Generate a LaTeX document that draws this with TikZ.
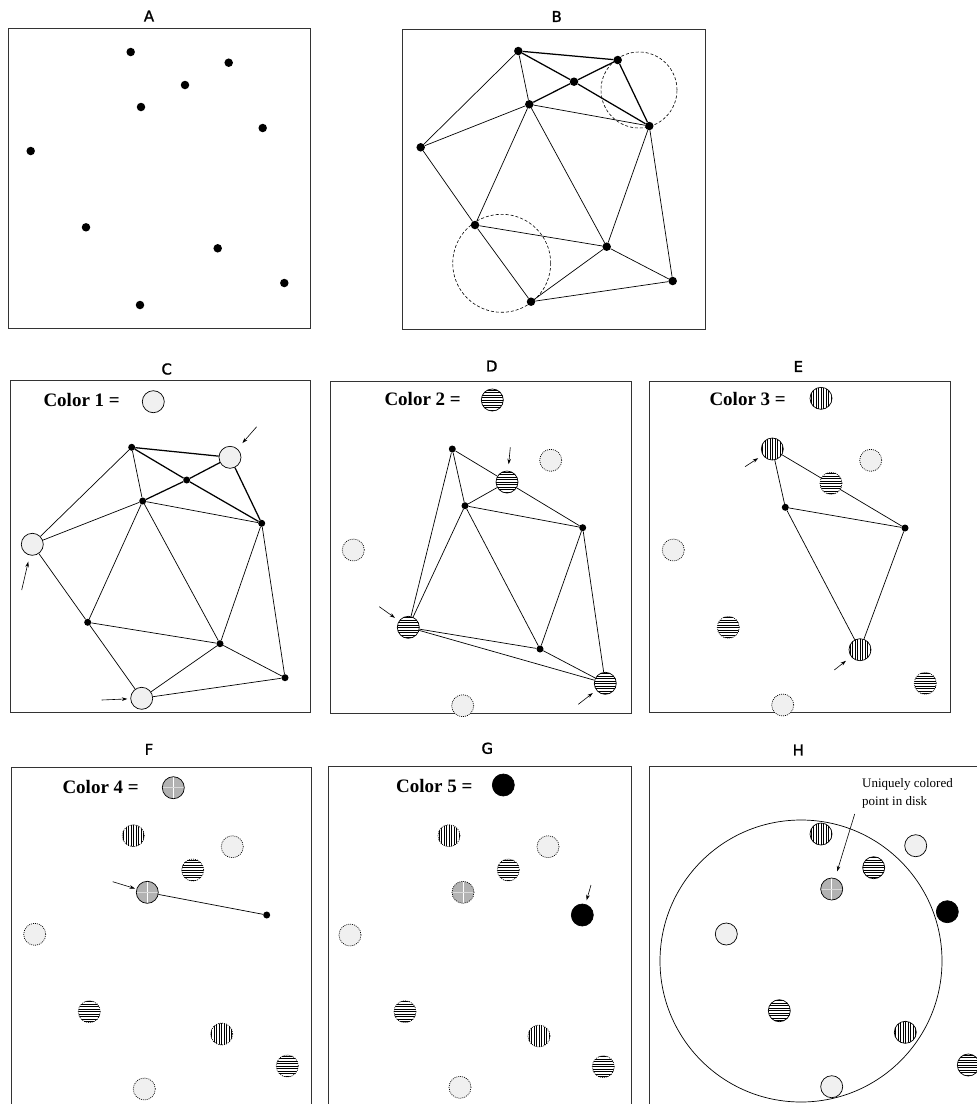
\documentclass[tikz,border=0pt]{standalone}
\usepackage{fontspec}
\setmainfont{Liberation Serif}
\newfontfamily\titlefont[FakeBold=1.2]{DejaVu Sans}
\usetikzlibrary{arrows.meta}
\pgfdeclarelayer{bg}
\pgfsetlayers{bg,main}
\definecolor{paleg}{gray}{0.94}
\definecolor{stip}{gray}{0.70}

\tikzset{
  frame/.style={draw=black!80, line width=0.9pt},
  ttl/.style={font=\titlefont\fontsize{15}{18}\selectfont, inner sep=0pt},
  key/.style={font=\fontsize{19}{22}\selectfont\bfseries, anchor=base west, inner sep=0pt},
  note/.style={font=\fontsize{13}{17.7}\selectfont, align=left, anchor=north west, inner sep=0pt},
  bigdot/.style={circle, fill=black, inner sep=0pt, minimum size=8.5pt},
  dot/.style={circle, fill=black, inner sep=0pt, minimum size=7pt},
  disc/.style={circle, inner sep=0pt, minimum size=22pt, draw=black, line width=0.7pt},
  ghost/.style={dash pattern=on 0.9pt off 1.1pt},
  hlines/.style={path picture={\foreach \k in {-4,...,4}
      \draw[solid, line width=0.55pt] ([shift={(-12pt,\k*2.5pt)}]path picture bounding box.center) -- ++(24pt,0pt);}},
  vlines/.style={path picture={\foreach \k in {-4,...,4}
      \draw[solid, line width=0.55pt] ([shift={(\k*2.5pt,-12pt)}]path picture bounding box.center) -- ++(0pt,24pt);}},
  c1/.style={disc, fill=paleg},
  c2/.style={disc, fill=white, hlines},
  c3/.style={disc, fill=white, vlines},
  c4/.style={disc, fill=stip, path picture={
      \draw[solid, white, line width=0.7pt] ([yshift=-12pt]path picture bounding box.center) -- ++(0pt,24pt);
      \draw[solid, white!50!stip, line width=0.5pt] ([xshift=-12pt]path picture bounding box.center) -- ++(24pt,0pt);}},
  c5/.style={disc, fill=black},
  g1/.style={c1, ghost},
  g2/.style={c2, ghost},
  g3/.style={c3, ghost},
  g4/.style={c4, ghost},
  edge/.style={line width=0.7pt, line join=round},
  hv/.style={line width=1.25pt, line join=round},
  arr/.style={line width=0.6pt, -{Stealth[length=5.5pt, width=3.6pt]}},
  ring/.style={dash pattern=on 3pt off 2pt, line width=0.6pt},
}

\begin{document}
\begin{tikzpicture}[x=1pt, y=-1pt]
\useasboundingbox (0,0) rectangle (977,1104);
\clip (0,0) rectangle (977,1104);

% ---------------- titles ----------------
\node[ttl] (tA) at (149,16) {A};
\node[ttl] (tB) at (556.7,16.5) {B};
\node[ttl] (tC) at (166.7,369) {C};
\node[ttl] (tD) at (491.7,366) {D};
\node[ttl] (tE) at (798.3,366.5) {E};
\node[ttl] (tF) at (149,749.3) {F};
\node[ttl] (tG) at (487.3,748.3) {G};
\node[ttl] (tH) at (798.3,750) {H};

% ---------------- frames ----------------
\draw[frame] (8,28) rectangle (310,328);
\draw[frame] (402.7,29.3) rectangle (705,329.3);
\draw[frame] (10.7,380) rectangle (310.7,712.3);
\draw[frame] (330,381.7) rectangle (631.7,713.3);
\draw[frame] (649,381.7) rectangle (950.7,712.3);
\draw[frame] (11,767.3) rectangle (311.7,1120);
\draw[frame] (328.3,766) rectangle (631,1120);
\draw[frame] (649,766.7) rectangle (1010,1120);

% ---------------- A: the point set ----------------
\node[bigdot] (Aa) at (130.7,52) {};
\node[bigdot] (Ab) at (228.7,62.7) {};
\node[bigdot] (Ac) at (185,85) {};
\node[bigdot] (Ad) at (141,107) {};
\node[bigdot] (Ae) at (262.7,128) {};
\node[bigdot] (Af) at (30.7,151) {};
\node[bigdot] (Ag) at (86,227.3) {};
\node[bigdot] (Ah) at (217.7,248.3) {};
\node[bigdot] (Ai) at (284.3,283) {};
\node[bigdot] (Aj) at (140,305) {};

% ---------------- B: triangulation ----------------
\draw[ring] (639,90) circle (38pt);
\draw[ring] (501.7,263.3) circle (49pt);
\node[bigdot] (Ba) at (518.3,51) {};
\node[bigdot] (Bb) at (617.7,60) {};
\node[bigdot] (Bc) at (574,81.7) {};
\node[bigdot] (Bd) at (529.3,104.3) {};
\node[bigdot] (Be) at (649.3,126) {};
\node[bigdot] (Bf) at (420.7,147.3) {};
\node[bigdot] (Bg) at (475,225) {};
\node[bigdot] (Bh) at (606.7,246.7) {};
\node[bigdot] (Bi) at (672.7,281) {};
\node[bigdot] (Bj) at (531,301.7) {};
\begin{pgfonlayer}{bg}
  \draw[hv] (Ba) -- (Bb) (Ba) -- (Bc) (Bb) -- (Bc) (Bc) -- (Bd) (Bc) -- (Be) (Bb) -- (Be);
  \draw[edge] (Ba) -- (Bd) (Ba) -- (Bf) (Bd) -- (Be) (Bd) -- (Bf) (Bd) -- (Bg) (Bd) -- (Bh)
              (Bf) -- (Bg) (Bg) -- (Bh) (Bg) -- (Bj) (Bh) -- (Be) (Bh) -- (Bi) (Bh) -- (Bj)
              (Be) -- (Bi) (Bj) -- (Bi);
\end{pgfonlayer}

% ---------------- C: colour 1 ----------------
\node[key] (kC) at (43.3,406.7) {Color 1 =};
\node[c1] (lC) at (153.3,401.7) {};
\node[dot] (Ca) at (131.7,447.3) {};
\node[c1]  (Cb) at (230,457.3) {};
\node[dot] (Cc) at (186.7,480) {};
\node[dot] (Cd) at (142.7,501) {};
\node[dot] (Ce) at (261.7,523.3) {};
\node[c1]  (Cf) at (32.3,544.3) {};
\node[dot] (Cg) at (87.7,622.3) {};
\node[dot] (Ch) at (220,643.7) {};
\node[dot] (Ci) at (285,677.7) {};
\node[c1]  (Cj) at (141.7,698.3) {};
\begin{pgfonlayer}{bg}
  \draw[hv] (Ca) -- (Cb) (Ca) -- (Cc) (Cb) -- (Cc) (Cc) -- (Cd) (Cc) -- (Ce) (Cb) -- (Ce);
  \draw[edge] (Ca) -- (Cd) (Ca) -- (Cf) (Cd) -- (Ce) (Cd) -- (Cf) (Cd) -- (Cg) (Cd) -- (Ch)
              (Cf) -- (Cg) (Cg) -- (Ch) (Cg) -- (Cj) (Ch) -- (Ce) (Ch) -- (Ci) (Ch) -- (Cj)
              (Ce) -- (Ci) (Cj) -- (Ci);
\end{pgfonlayer}
\coordinate (sCb) at (256.7,426.7);
\coordinate (sCf) at (21.7,590);
\coordinate (sCj) at (101.7,700);
\draw[arr, shorten >=7.5pt] (sCb) -- (Cb);
\draw[arr, shorten >=6.5pt] (sCf) -- (Cf);
\draw[arr, shorten >=3pt] (sCj) -- (Cj);

% ---------------- D: colour 2 ----------------
\node[key] (kD) at (384.3,405.7) {Color 2 =};
\node[c2] (lD) at (492.3,400) {};
\node[dot] (Da) at (452.3,449) {};
\node[g1]  (Db) at (550.7,460.3) {};
\node[c2]  (Dc) at (507,482) {};
\node[dot] (Dd) at (465,505.7) {};
\node[dot] (De) at (582.7,527.7) {};
\node[g1]  (Df) at (353.3,550) {};
\node[c2]  (Dg) at (408.3,627.3) {};
\node[dot] (Dh) at (540,649) {};
\node[c2]  (Di) at (605.3,683.3) {};
\node[g1]  (Dj) at (462.7,705.7) {};
\begin{pgfonlayer}{bg}
  \draw[edge] (Da) -- (Dc) (Da) -- (Dd) (Da) -- (Dg) (Dc) -- (Dd) (Dc) -- (De) (Dd) -- (De)
              (Dd) -- (Dg) (Dd) -- (Dh) (De) -- (Dh) (De) -- (Di) (Dg) -- (Dh) (Dg) -- (Di)
              (Dh) -- (Di);
\end{pgfonlayer}
\coordinate (sDc) at (510.3,447.3);
\coordinate (sDg) at (379.3,606.7);
\coordinate (sDi) at (578.3,704.3);
\draw[arr, shorten >=6.5pt] (sDc) -- (Dc);
\draw[arr, shorten >=5pt] (sDg) -- (Dg);
\draw[arr, shorten >=4.5pt] (sDi) -- (Di);

% ---------------- E: colour 3 ----------------
\node[key] (kE) at (709.3,405) {Color 3 =};
\node[c3] (lE) at (821,398.3) {};
\node[c3]  (Ea) at (772.3,449) {};
\node[g1]  (Eb) at (870.7,460.3) {};
\node[g2]  (Ec) at (831,483.3) {};
\node[dot] (Ed) at (785.3,507.3) {};
\node[dot] (Ee) at (905,528) {};
\node[g1]  (Ef) at (673.3,550) {};
\node[g2]  (Eg) at (728.3,627.3) {};
\node[c3]  (Eh) at (860,649.7) {};
\node[g2]  (Ei) at (925.3,683.3) {};
\node[g1]  (Ej) at (782.7,705) {};
\begin{pgfonlayer}{bg}
  \draw[edge] (Ea) -- (Ee) (Ea) -- (Ed) (Ed) -- (Ee) (Ed) -- (Eh) (Ee) -- (Eh);
\end{pgfonlayer}
\coordinate (sEa) at (745,466.7);
\coordinate (sEh) at (834.3,670);
\draw[arr, shorten >=5.5pt] (sEa) -- (Ea);
\draw[arr, shorten >=6.5pt] (sEh) -- (Eh);

% ---------------- F: colour 4 ----------------
\node[key] (kF) at (62.3,793.3) {Color 4 =};
\node[c4] (lF) at (173.3,787.7) {};
\node[g3]  (Fa) at (133.3,835.7) {};
\node[g1]  (Fb) at (232.3,846.7) {};
\node[g2]  (Fc) at (192.7,870) {};
\node[c4]  (Fd) at (147.3,892.3) {};
\node[dot] (Fe) at (266.7,915) {};
\node[g1]  (Ff) at (34.7,934.3) {};
\node[g2]  (Fg) at (89.3,1011.7) {};
\node[g3]  (Fh) at (221.7,1034) {};
\node[g2]  (Fi) at (287.3,1066) {};
\node[g1]  (Fj) at (144.3,1089) {};
\begin{pgfonlayer}{bg}
  \draw[edge] (Fd) -- (Fe);
\end{pgfonlayer}
\coordinate (sFd) at (112.7,881.7);
\draw[arr, shorten >=1.5pt] (sFd) -- (Fd);

% ---------------- G: colour 5 ----------------
\node[key] (kG) at (396,792.3) {Color 5 =};
\node[c5] (lG) at (503.3,785) {};
\node[g3]  (Ga) at (449,835.7) {};
\node[g1]  (Gb) at (548,846.7) {};
\node[g2]  (Gc) at (508.3,870) {};
\node[g4]  (Gd) at (463,892.3) {};
\node[c5]  (Ge) at (582.3,915) {};
\node[g1]  (Gf) at (350,935) {};
\node[g2]  (Gg) at (405,1011.7) {};
\node[g3]  (Gh) at (539,1036) {};
\node[g2]  (Gi) at (603.3,1066.7) {};
\node[g1]  (Gj) at (460,1087.3) {};
\coordinate (sGe) at (591,885);
\draw[arr, shorten >=4pt] (sGe) -- (Ge);

% ---------------- H: the disk ----------------
\draw[line width=0.7pt] (801,961) circle (141pt);
\node[c3] (Ha) at (821,834) {};
\node[c1] (Hb) at (915.7,845.7) {};
\node[c2] (Hc) at (873.7,867.7) {};
\node[c4] (Hd) at (831.7,889) {};
\node[c5] (He) at (947.3,911.7) {};
\node[c1] (Hf) at (726.3,934) {};
\node[c2] (Hg) at (779.3,1010.7) {};
\node[c3] (Hh) at (905.3,1032.3) {};
\node[c2] (Hi) at (968.3,1065) {};
\node[c1] (Hj) at (831.7,1086.7) {};
\node[note] (lbl) at (862,778.4) {Uniquely colored\\point in disk};
\coordinate (sHd) at (854.7,814);
\draw[arr, shorten >=7pt] (sHd) -- (Hd);
\end{tikzpicture}
\end{document}
